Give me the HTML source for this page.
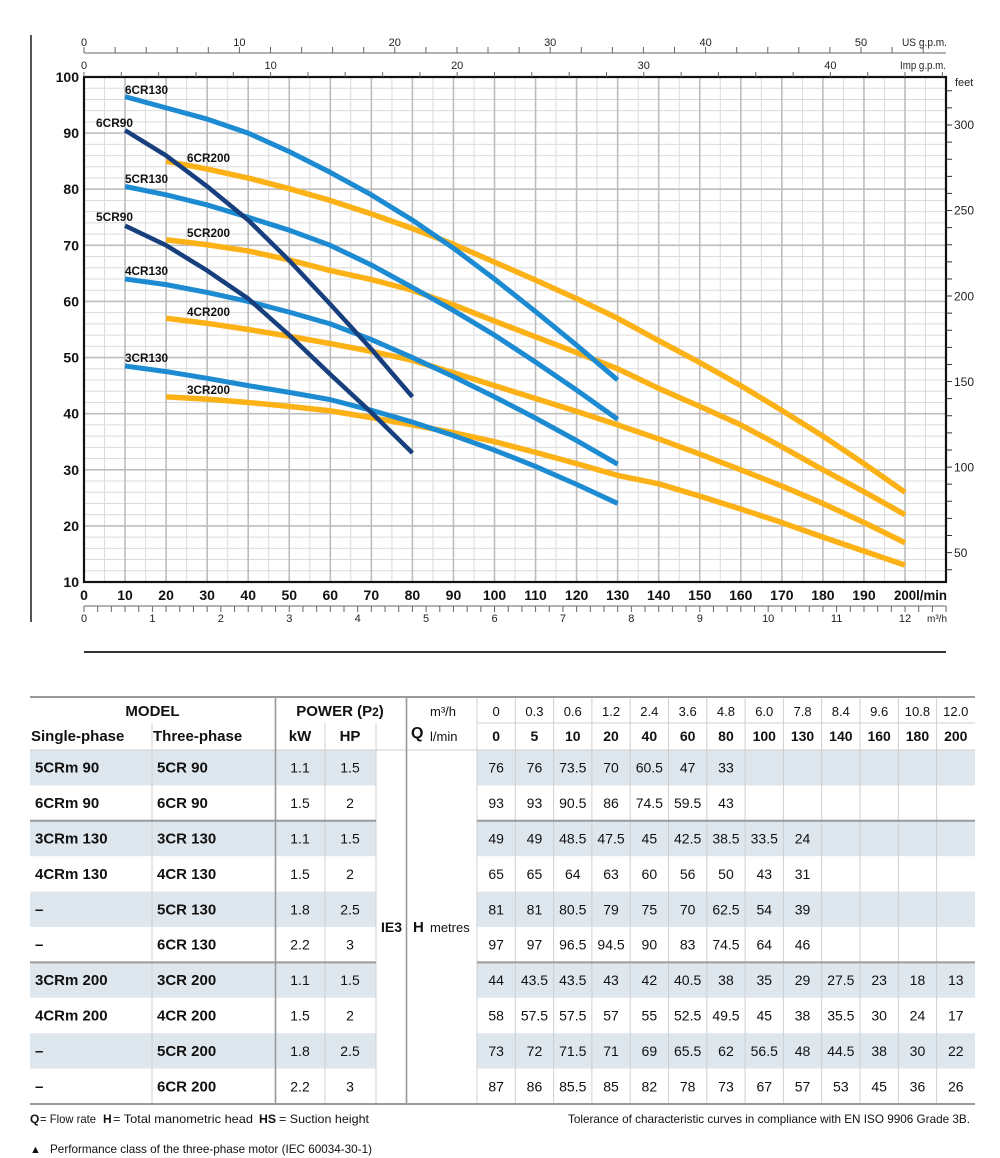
<!DOCTYPE html>
<html><head><meta charset="utf-8"><style>
html,body{margin:0;padding:0;background:#fff;}
svg{display:block;}
text{font-family:"Liberation Sans",Arial,sans-serif;}
</style></head><body>
<svg width="1000" height="1158" viewBox="0 0 1000 1158" xmlns="http://www.w3.org/2000/svg">
<!-- left bar -->
<line x1="31" y1="35" x2="31" y2="622" stroke="#555" stroke-width="2"/>
<!-- minor grid -->
<path fill="none" stroke="#dcdcdc" stroke-width="1" d="M84 570.78H946M84 559.56H946M84 548.33H946M84 537.11H946M84 514.67H946M84 503.45H946M84 492.22H946M84 481H946M84 458.56H946M84 447.34H946M84 436.11H946M84 424.89H946M84 402.45H946M84 391.23H946M84 380H946M84 368.78H946M84 346.34H946M84 335.12H946M84 323.89H946M84 312.67H946M84 290.23H946M84 279.01H946M84 267.79H946M84 256.56H946M84 234.12H946M84 222.9H946M84 211.68H946M84 200.45H946M84 178.01H946M84 166.79H946M84 155.57H946M84 144.34H946M84 121.9H946M84 110.68H946M84 99.45H946M84 88.23H946
M104.5 77V582M145.6 77V582M186.6 77V582M227.7 77V582M268.7 77V582M309.8 77V582M350.8 77V582M391.9 77V582M432.9 77V582M474 77V582M515 77V582M556.1 77V582M597.1 77V582M638.2 77V582M679.2 77V582M720.3 77V582M761.3 77V582M802.4 77V582M843.4 77V582M884.5 77V582M925.5 77V582"/>
<!-- major grid -->
<path fill="none" stroke="#bdbdbd" stroke-width="1.6" d="M84 525.89H946M84 469.78H946M84 413.67H946M84 357.56H946M84 301.45H946M84 245.34H946M84 189.23H946M84 133.12H946
M125.05 77V582M166.1 77V582M207.15 77V582M248.2 77V582M289.25 77V582M330.3 77V582M371.35 77V582M412.4 77V582M453.45 77V582M494.5 77V582M535.55 77V582M576.6 77V582M617.65 77V582M658.7 77V582M699.75 77V582M740.8 77V582M781.85 77V582M822.9 77V582M863.95 77V582M905 77V582"/>
<!-- frame -->
<rect x="84" y="77" width="862" height="505" fill="none" stroke="#111" stroke-width="2.2"/>

<!-- US gpm axis -->
<line x1="84" y1="53" x2="946" y2="53" stroke="#666" stroke-width="1"/>
<path fill="none" stroke="#666" stroke-width="1" d="M84 47V53M115.1 47V53M146.2 47V53M177.2 47V53M208.3 47V53M239.4 47V53M270.5 47V53M301.6 47V53M332.6 47V53M363.7 47V53M394.8 47V53M425.9 47V53M457 47V53M488 47V53M519.1 47V53M550.2 47V53M581.3 47V53M612.4 47V53M643.4 47V53M674.5 47V53M705.6 47V53M736.7 47V53M767.8 47V53M798.8 47V53M829.9 47V53M861 47V53M892.1 47V53M923.2 47V53"/>
<g font-size="11" fill="#222" text-anchor="middle">
<text x="84" y="46">0</text><text x="239.4" y="46">10</text><text x="394.8" y="46">20</text><text x="550.2" y="46">30</text><text x="705.6" y="46">40</text><text x="861" y="46">50</text>
</g>
<text x="902" y="46" font-size="11" fill="#222" textLength="45" lengthAdjust="spacingAndGlyphs">US g.p.m.</text>
<!-- Imp gpm -->
<path fill="none" stroke="#666" stroke-width="1" d="M84 72V77M121.3 72V77M158.6 72V77M196 72V77M233.3 72V77M270.6 72V77M307.9 72V77M345.2 72V77M382.6 72V77M419.9 72V77M457.2 72V77M494.5 72V77M531.8 72V77M569.2 72V77M606.5 72V77M643.8 72V77M681.1 72V77M718.4 72V77M755.8 72V77M793.1 72V77M830.4 72V77M867.7 72V77M905 72V77M942.4 72V77"/>
<g font-size="11" fill="#222" text-anchor="middle">
<text x="84" y="69">0</text><text x="270.6" y="69">10</text><text x="457.2" y="69">20</text><text x="643.8" y="69">30</text><text x="830.4" y="69">40</text>
</g>
<text x="900" y="69" font-size="11" fill="#222" textLength="46" lengthAdjust="spacingAndGlyphs">Imp g.p.m.</text>

<!-- feet axis -->
<path fill="none" stroke="#333" stroke-width="1" d="M946 569.7H952M946 552.6H952M946 535.49H952M946 518.39H952M946 501.29H952M946 484.18H952M946 467.08H952M946 449.98H952M946 432.87H952M946 415.77H952M946 398.67H952M946 381.56H952M946 364.46H952M946 347.36H952M946 330.26H952M946 313.15H952M946 296.05H952M946 278.95H952M946 261.84H952M946 244.74H952M946 227.64H952M946 210.53H952M946 193.43H952M946 176.33H952M946 159.23H952M946 142.12H952M946 125.02H952M946 107.92H952M946 90.81H952"/>
<g font-size="12" fill="#222">
<text x="954" y="556.8">50</text><text x="954" y="471.3">100</text><text x="954" y="385.8">150</text><text x="954" y="300.3">200</text><text x="954" y="214.7">250</text><text x="954" y="129.2">300</text>
<text x="955" y="86" font-size="11">feet</text>
</g>

<!-- y labels -->
<g font-size="14" font-weight="bold" fill="#111" text-anchor="end">
<text x="79" y="82">100</text><text x="79" y="138.1">90</text><text x="79" y="194.2">80</text><text x="79" y="250.3">70</text><text x="79" y="306.5">60</text><text x="79" y="362.6">50</text><text x="79" y="418.7">40</text><text x="79" y="474.8">30</text><text x="79" y="530.9">20</text><text x="79" y="587">10</text>
</g>
<!-- x labels -->
<g font-size="14" font-weight="bold" fill="#111" text-anchor="middle">
<text x="84" y="600">0</text><text x="125.05" y="600">10</text><text x="166.1" y="600">20</text><text x="207.15" y="600">30</text><text x="248.2" y="600">40</text><text x="289.25" y="600">50</text><text x="330.3" y="600">60</text><text x="371.35" y="600">70</text><text x="412.4" y="600">80</text><text x="453.45" y="600">90</text><text x="494.5" y="600">100</text><text x="535.55" y="600">110</text><text x="576.6" y="600">120</text><text x="617.65" y="600">130</text><text x="658.7" y="600">140</text><text x="699.75" y="600">150</text><text x="740.8" y="600">160</text><text x="781.85" y="600">170</text><text x="822.9" y="600">180</text><text x="863.95" y="600">190</text>
</g>
<text x="894" y="600" font-size="14" font-weight="bold" fill="#111" textLength="53" lengthAdjust="spacingAndGlyphs">200l/min</text>

<!-- m3/h axis -->
<line x1="84" y1="606" x2="946" y2="606" stroke="#666" stroke-width="1"/>
<path fill="none" stroke="#666" stroke-width="1" d="M84 606v6M97.68 606v6M111.37 606v6M125.05 606v6M138.74 606v6M152.42 606v6M166.1 606v6M179.79 606v6M193.47 606v6M207.16 606v6M220.84 606v6M234.52 606v6M248.21 606v6M261.89 606v6M275.58 606v6M289.26 606v6M302.94 606v6M316.63 606v6M330.31 606v6M344 606v6M357.68 606v6M371.36 606v6M385.05 606v6M398.73 606v6M412.42 606v6M426.1 606v6M439.78 606v6M453.47 606v6M467.15 606v6M480.84 606v6M494.52 606v6M508.2 606v6M521.89 606v6M535.57 606v6M549.26 606v6M562.94 606v6M576.62 606v6M590.31 606v6M603.99 606v6M617.68 606v6M631.36 606v6M645.04 606v6M658.73 606v6M672.41 606v6M686.1 606v6M699.78 606v6M713.46 606v6M727.15 606v6M740.83 606v6M754.52 606v6M768.2 606v6M781.88 606v6M795.57 606v6M809.25 606v6M822.94 606v6M836.62 606v6M850.3 606v6M863.99 606v6M877.67 606v6M891.36 606v6M905.04 606v6M918.72 606v6M932.41 606v6M946.09 606v6"/>
<g font-size="11" fill="#222" text-anchor="middle">
<text x="84" y="622">0</text><text x="152.42" y="622">1</text><text x="220.84" y="622">2</text><text x="289.26" y="622">3</text><text x="357.68" y="622">4</text><text x="426.1" y="622">5</text><text x="494.52" y="622">6</text><text x="562.94" y="622">7</text><text x="631.36" y="622">8</text><text x="699.78" y="622">9</text><text x="768.2" y="622">10</text><text x="836.62" y="622">11</text><text x="905.04" y="622">12</text>
</g>
<text x="927" y="622" font-size="10" fill="#222" textLength="20" lengthAdjust="spacingAndGlyphs">m³/h</text>

<line x1="84" y1="652" x2="946" y2="652" stroke="#333" stroke-width="2"/>

<!-- curves: orange -->
<g fill="none" stroke="#fcb116" stroke-width="5.5" stroke-linejoin="round">
<polyline points="166.1,161.17 207.15,169.03 248.2,178.01 289.25,188.67 330.3,200.45 371.35,213.92 412.4,228.51 453.45,244.22 494.5,262.15 535.55,280.12 576.6,298.64 617.65,318.28 658.7,340.72 699.75,362.61 740.8,385.61 781.85,410.42 822.9,436.11 863.95,463.61 905,492.22"/>
<polyline points="166.1,239.73 207.15,244.78 248.2,250.95 289.25,259.93 330.3,270.59 371.35,279.57 412.4,290.23 453.45,304.82 494.5,321.09 535.55,336.8 576.6,352.51 617.65,368.78 658.7,388.42 699.75,406.37 740.8,424.89 781.85,446.77 822.9,469.78 863.95,491.66 905,514.67"/>
<polyline points="166.1,318.28 207.15,323.34 248.2,329.5 289.25,336.24 330.3,343.53 371.35,351.38 412.4,360.36 453.45,372.71 494.5,385.61 535.55,398.52 576.6,411.42 617.65,424.89 658.7,438.92 699.75,454.07 740.8,469.78 781.85,486.06 822.9,503.45 863.95,522.53 905,542.72"/>
<polyline points="166.1,396.84 207.15,399.09 248.2,402.45 289.25,406.38 330.3,410.87 371.35,417.6 412.4,424.89 453.45,432.74 494.5,441.72 535.55,452.38 576.6,463.6 617.65,475.39 658.7,483.81 699.75,496.15 740.8,509.06 781.85,522.53 822.9,537.11 863.95,551.14 905,565.14"/>
</g>
<!-- light blue -->
<g fill="none" stroke="#1d8bd1" stroke-width="5" stroke-linejoin="round">
<polyline points="125.05,96.65 166.1,107.87 207.15,119.09 248.2,133.12 289.25,151.64 330.3,172.4 371.35,194.84 412.4,220.09 453.45,248.15 494.5,279.01 535.55,311.55 576.6,345.22 617.65,380"/>
<polyline points="125.05,186.42 166.1,194.84 207.15,204.94 248.2,217.28 289.25,230.19 330.3,245.34 371.35,264.98 412.4,287.42 453.45,310.43 494.5,335.12 535.55,362.05 576.6,390.1 617.65,419.28"/>
<polyline points="125.05,279.01 166.1,284.62 207.15,292.47 248.2,301.45 289.25,312.11 330.3,323.89 371.35,339.6 412.4,357.56 453.45,376.64 494.5,396.84 535.55,418.15 576.6,440.6 617.65,464.17"/>
<polyline points="125.05,366 166.1,371.59 207.15,378.32 248.2,385.61 289.25,392.35 330.3,399.64 371.35,410.3 412.4,422.08 453.45,435.55 494.5,450.14 535.55,466.41 576.6,484.37 617.65,503.45"/>
</g>
<!-- navy -->
<g fill="none" stroke="#183f7d" stroke-width="4.5" stroke-linejoin="round">
<polyline points="125.05,130.32 166.1,155.57 207.15,186.42 248.2,220.09 289.25,260.51 330.3,304.26 371.35,349.14 412.4,396.84"/>
<polyline points="125.05,225.7 166.1,245.34 207.15,270.59 248.2,298.64 289.25,335.12 330.3,374.39 371.35,412.53 412.4,452.95"/>
</g>
<!-- curve labels -->
<g font-size="12" font-weight="bold" fill="#111">
<text x="125" y="94" textLength="43" lengthAdjust="spacingAndGlyphs">6CR130</text>
<text x="96" y="127" textLength="37" lengthAdjust="spacingAndGlyphs">6CR90</text>
<text x="187" y="162" textLength="43" lengthAdjust="spacingAndGlyphs">6CR200</text>
<text x="125" y="183" textLength="43" lengthAdjust="spacingAndGlyphs">5CR130</text>
<text x="96" y="221" textLength="37" lengthAdjust="spacingAndGlyphs">5CR90</text>
<text x="187" y="237" textLength="43" lengthAdjust="spacingAndGlyphs">5CR200</text>
<text x="125" y="275" textLength="43" lengthAdjust="spacingAndGlyphs">4CR130</text>
<text x="187" y="316" textLength="43" lengthAdjust="spacingAndGlyphs">4CR200</text>
<text x="125" y="362" textLength="43" lengthAdjust="spacingAndGlyphs">3CR130</text>
<text x="187" y="394" textLength="43" lengthAdjust="spacingAndGlyphs">3CR200</text>
</g>

<!-- ================= TABLE ================= -->
<g fill="#dfe7ee">
<rect x="30" y="750" width="346" height="35.4"/><rect x="477" y="750" width="498" height="35.4"/>
<rect x="30" y="820.8" width="346" height="35.4"/><rect x="477" y="820.8" width="498" height="35.4"/>
<rect x="30" y="891.6" width="346" height="35.4"/><rect x="477" y="891.6" width="498" height="35.4"/>
<rect x="30" y="962.4" width="346" height="35.4"/><rect x="477" y="962.4" width="498" height="35.4"/>
<rect x="30" y="1033.2" width="346" height="35.4"/><rect x="477" y="1033.2" width="498" height="35.4"/>
</g>
<!-- light lines -->
<path fill="none" stroke="#cfcfcf" stroke-width="1" d="M152 723V1104M325 723V1104M376 723V1104M477 697V1104M515.3 697V1104M553.6 697V1104M591.9 697V1104M630.2 697V1104M668.5 697V1104M706.8 697V1104M745.1 697V1104M783.4 697V1104M821.7 697V1104M860 697V1104M898.3 697V1104M936.6 697V1104M477 723H975M30 750H975"/>
<!-- dark lines -->
<path fill="none" stroke="#9a9a9a" stroke-width="1.6" d="M275.5 697V1104M406.5 697V1104"/>
<path fill="none" stroke="#9a9a9a" stroke-width="2" d="M30 697H975M30 820.8H376M477 820.8H975M30 962.4H376M477 962.4H975M30 1104H975"/>

<!-- header text -->
<g font-size="15" font-weight="bold" fill="#111">
<text x="152.5" y="716" text-anchor="middle">MODEL</text>
<text x="340" y="716" text-anchor="middle">POWER (P<tspan font-size="12">2</tspan>)</text>
<text x="31" y="741">Single-phase</text>
<text x="153" y="741">Three-phase</text>
<text x="300" y="741" text-anchor="middle">kW</text>
<text x="350" y="741" text-anchor="middle">HP</text>
<text x="411" y="738" font-size="16">Q</text>
</g>
<text x="430" y="716" font-size="13" fill="#111">m³/h</text>
<text x="430" y="741" font-size="13" fill="#111">l/min</text>
<g font-size="13" fill="#111" text-anchor="middle">
<text y="716"><tspan x="496.15">0</tspan><tspan x="534.45">0.3</tspan><tspan x="572.75">0.6</tspan><tspan x="611.05">1.2</tspan><tspan x="649.35">2.4</tspan><tspan x="687.65">3.6</tspan><tspan x="725.95">4.8</tspan><tspan x="764.25">6.0</tspan><tspan x="802.55">7.8</tspan><tspan x="840.85">8.4</tspan><tspan x="879.15">9.6</tspan><tspan x="917.45">10.8</tspan><tspan x="955.75">12.0</tspan></text>
<text y="741" font-weight="bold" font-size="14"><tspan x="496.15">0</tspan><tspan x="534.45">5</tspan><tspan x="572.75">10</tspan><tspan x="611.05">20</tspan><tspan x="649.35">40</tspan><tspan x="687.65">60</tspan><tspan x="725.95">80</tspan><tspan x="764.25">100</tspan><tspan x="802.55">130</tspan><tspan x="840.85">140</tspan><tspan x="879.15">160</tspan><tspan x="917.45">180</tspan><tspan x="955.75">200</tspan></text>
</g>

<!-- IE3 / H metres -->
<text x="391.5" y="932" font-size="14" font-weight="bold" fill="#111" text-anchor="middle">IE3</text>
<text x="413" y="932" font-size="15" font-weight="bold" fill="#111">H</text>
<text x="430" y="932" font-size="13" fill="#111">metres</text>

<!-- model names -->
<g font-size="15" font-weight="bold" fill="#111">
<text x="35" y="772.7">5CRm 90</text><text x="157" y="772.7">5CR 90</text>
<text x="35" y="808.1">6CRm 90</text><text x="157" y="808.1">6CR 90</text>
<text x="35" y="843.5">3CRm 130</text><text x="157" y="843.5">3CR 130</text>
<text x="35" y="878.9">4CRm 130</text><text x="157" y="878.9">4CR 130</text>
<text x="35" y="914.3">–</text><text x="157" y="914.3">5CR 130</text>
<text x="35" y="949.7">–</text><text x="157" y="949.7">6CR 130</text>
<text x="35" y="985.1">3CRm 200</text><text x="157" y="985.1">3CR 200</text>
<text x="35" y="1020.5">4CRm 200</text><text x="157" y="1020.5">4CR 200</text>
<text x="35" y="1055.9">–</text><text x="157" y="1055.9">5CR 200</text>
<text x="35" y="1091.3">–</text><text x="157" y="1091.3">6CR 200</text>
</g>
<!-- power -->
<g font-size="14" fill="#111" text-anchor="middle">
<text y="772.7"><tspan x="300">1.1</tspan><tspan x="350">1.5</tspan></text>
<text y="808.1"><tspan x="300">1.5</tspan><tspan x="350">2</tspan></text>
<text y="843.5"><tspan x="300">1.1</tspan><tspan x="350">1.5</tspan></text>
<text y="878.9"><tspan x="300">1.5</tspan><tspan x="350">2</tspan></text>
<text y="914.3"><tspan x="300">1.8</tspan><tspan x="350">2.5</tspan></text>
<text y="949.7"><tspan x="300">2.2</tspan><tspan x="350">3</tspan></text>
<text y="985.1"><tspan x="300">1.1</tspan><tspan x="350">1.5</tspan></text>
<text y="1020.5"><tspan x="300">1.5</tspan><tspan x="350">2</tspan></text>
<text y="1055.9"><tspan x="300">1.8</tspan><tspan x="350">2.5</tspan></text>
<text y="1091.3"><tspan x="300">2.2</tspan><tspan x="350">3</tspan></text>
</g>
<!-- data -->
<g font-size="14" fill="#111" text-anchor="middle">
<text y="772.7"><tspan x="496.15">76</tspan><tspan x="534.45">76</tspan><tspan x="572.75">73.5</tspan><tspan x="611.05">70</tspan><tspan x="649.35">60.5</tspan><tspan x="687.65">47</tspan><tspan x="725.95">33</tspan></text>
<text y="808.1"><tspan x="496.15">93</tspan><tspan x="534.45">93</tspan><tspan x="572.75">90.5</tspan><tspan x="611.05">86</tspan><tspan x="649.35">74.5</tspan><tspan x="687.65">59.5</tspan><tspan x="725.95">43</tspan></text>
<text y="843.5"><tspan x="496.15">49</tspan><tspan x="534.45">49</tspan><tspan x="572.75">48.5</tspan><tspan x="611.05">47.5</tspan><tspan x="649.35">45</tspan><tspan x="687.65">42.5</tspan><tspan x="725.95">38.5</tspan><tspan x="764.25">33.5</tspan><tspan x="802.55">24</tspan></text>
<text y="878.9"><tspan x="496.15">65</tspan><tspan x="534.45">65</tspan><tspan x="572.75">64</tspan><tspan x="611.05">63</tspan><tspan x="649.35">60</tspan><tspan x="687.65">56</tspan><tspan x="725.95">50</tspan><tspan x="764.25">43</tspan><tspan x="802.55">31</tspan></text>
<text y="914.3"><tspan x="496.15">81</tspan><tspan x="534.45">81</tspan><tspan x="572.75">80.5</tspan><tspan x="611.05">79</tspan><tspan x="649.35">75</tspan><tspan x="687.65">70</tspan><tspan x="725.95">62.5</tspan><tspan x="764.25">54</tspan><tspan x="802.55">39</tspan></text>
<text y="949.7"><tspan x="496.15">97</tspan><tspan x="534.45">97</tspan><tspan x="572.75">96.5</tspan><tspan x="611.05">94.5</tspan><tspan x="649.35">90</tspan><tspan x="687.65">83</tspan><tspan x="725.95">74.5</tspan><tspan x="764.25">64</tspan><tspan x="802.55">46</tspan></text>
<text y="985.1"><tspan x="496.15">44</tspan><tspan x="534.45">43.5</tspan><tspan x="572.75">43.5</tspan><tspan x="611.05">43</tspan><tspan x="649.35">42</tspan><tspan x="687.65">40.5</tspan><tspan x="725.95">38</tspan><tspan x="764.25">35</tspan><tspan x="802.55">29</tspan><tspan x="840.85">27.5</tspan><tspan x="879.15">23</tspan><tspan x="917.45">18</tspan><tspan x="955.75">13</tspan></text>
<text y="1020.5"><tspan x="496.15">58</tspan><tspan x="534.45">57.5</tspan><tspan x="572.75">57.5</tspan><tspan x="611.05">57</tspan><tspan x="649.35">55</tspan><tspan x="687.65">52.5</tspan><tspan x="725.95">49.5</tspan><tspan x="764.25">45</tspan><tspan x="802.55">38</tspan><tspan x="840.85">35.5</tspan><tspan x="879.15">30</tspan><tspan x="917.45">24</tspan><tspan x="955.75">17</tspan></text>
<text y="1055.9"><tspan x="496.15">73</tspan><tspan x="534.45">72</tspan><tspan x="572.75">71.5</tspan><tspan x="611.05">71</tspan><tspan x="649.35">69</tspan><tspan x="687.65">65.5</tspan><tspan x="725.95">62</tspan><tspan x="764.25">56.5</tspan><tspan x="802.55">48</tspan><tspan x="840.85">44.5</tspan><tspan x="879.15">38</tspan><tspan x="917.45">30</tspan><tspan x="955.75">22</tspan></text>
<text y="1091.3"><tspan x="496.15">87</tspan><tspan x="534.45">86</tspan><tspan x="572.75">85.5</tspan><tspan x="611.05">85</tspan><tspan x="649.35">82</tspan><tspan x="687.65">78</tspan><tspan x="725.95">73</tspan><tspan x="764.25">67</tspan><tspan x="802.55">57</tspan><tspan x="840.85">53</tspan><tspan x="879.15">45</tspan><tspan x="917.45">36</tspan><tspan x="955.75">26</tspan></text>
</g>

<!-- footer -->
<g font-size="12" fill="#111">
<text x="30" y="1123" font-weight="bold">Q</text>
<text x="40" y="1123" textLength="56" lengthAdjust="spacingAndGlyphs">= Flow rate</text>
<text x="103" y="1123" font-weight="bold">H</text>
<text x="113" y="1123" textLength="140" lengthAdjust="spacingAndGlyphs">= Total manometric head</text>
<text x="259" y="1123" font-weight="bold" textLength="17" lengthAdjust="spacingAndGlyphs">HS</text>
<text x="279" y="1123" textLength="90" lengthAdjust="spacingAndGlyphs">= Suction height</text>
<text x="568" y="1123" textLength="402" lengthAdjust="spacingAndGlyphs">Tolerance of characteristic curves in compliance with EN ISO 9906 Grade 3B.</text>
<text x="30" y="1153" font-size="11">▲</text>
<text x="50" y="1153" textLength="322" lengthAdjust="spacingAndGlyphs">Performance class of the three-phase motor (IEC 60034-30-1)</text>
</g>
</svg>
</body></html>
